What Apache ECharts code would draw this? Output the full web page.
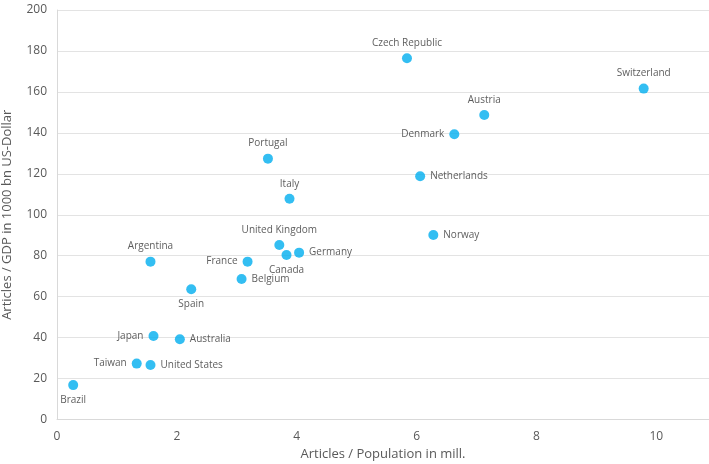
<!DOCTYPE html>
<html>
<head>
<meta charset="utf-8">
<script src="https://cdn.jsdelivr.net/npm/echarts@6/dist/echarts.min.js"></script>
<style>
html,body{margin:0;padding:0;background:#fff;}
#chart{width:709px;height:464px;}
</style>
</head>
<body>
<div id="chart"></div>
<script>
const countries = ["Czech Republic","Switzerland","Austria","Denmark","Netherlands","Norway","Portugal","Italy","United Kingdom","Canada","Germany","France","Belgium","Argentina","Spain","Japan","Australia","Taiwan","United States","Brazil"];
const articlesPerPopulation = [5.84,9.79,7.13,6.63,6.06,6.28,3.52,3.88,3.71,3.83,4.04,3.18,3.08,1.56,2.24,1.61,2.05,1.33,1.56,0.27];
const articlesPerGDP = [176.4,161.6,148.7,139.3,118.8,90.1,127.4,107.8,85.2,80.3,81.5,77.1,68.6,77.1,63.6,40.8,39.2,27.3,26.6,16.8];
const xTicks = [0,2,4,6,8,10];
const yTicks = [0,20,40,60,80,100,120,140,160,180,200];

const labelPlacement = {
  "Czech Republic":"top","Switzerland":"top","Austria":"top","Portugal":"top","Italy":"top","United Kingdom":"top","Argentina":"top",
  "Denmark":"left","France":"left","Japan":"left","Taiwan":"left",
  "Netherlands":"right","Norway":"right","Germany":"right","Belgium":"right","Australia":"right","United States":"right",
  "Canada":"bottom","Spain":"bottom","Brazil":"bottom"
};

const chart = echarts.init(document.getElementById('chart'), null, {renderer:'canvas'});
const font = '"Open Sans", Lato, sans-serif';
chart.setOption({
  animation:false,
  backgroundColor:'#ffffff',
  grid:{left:57, top:10, right:0, bottom:44.5, containLabel:false, outerBoundsMode:'none'},
  xAxis:{
    type:'value', min:xTicks[0], max:10.88, interval:2,
    name:'Articles / Population in mill.', nameLocation:'middle', nameGap:26,
    nameTextStyle:{color:'#595959', fontSize:13, fontFamily:font},
    axisLine:{show:true, lineStyle:{color:'#d9d9d9', width:1}},
    axisTick:{show:false},
    splitLine:{show:false},
    axisLabel:{color:'#595959', fontSize:12, fontFamily:font, margin:11, showMaxLabel:false,
      formatter:v => xTicks.includes(v) ? String(v) : ''}
  },
  yAxis:{
    type:'value', min:yTicks[0], max:yTicks[yTicks.length-1], interval:20,
    name:'Articles / GDP in 1000 bn US-Dollar', nameLocation:'middle', nameGap:43, nameRotate:90,
    nameTextStyle:{color:'#595959', fontSize:13, fontFamily:font},
    axisLine:{show:true, lineStyle:{color:'#d9d9d9', width:1}},
    axisTick:{show:false},
    splitLine:{show:true, lineStyle:{color:'#e3e3e3', width:1}},
    axisLabel:{color:'#595959', fontSize:12, fontFamily:font, margin:10}
  },
  series:[{
    type:'scatter',
    symbol:'circle',
    symbolSize:10,
    itemStyle:{color:'#00aeef'},
    label:{show:true, formatter:p => p.name, color:'#333333', fontSize:10, fontFamily:font, distance:5},
    data:countries.map((c,i)=>({
      name:c,
      value:[articlesPerPopulation[i], articlesPerGDP[i]],
      label:{position:labelPlacement[c]}
    }))
  }]
});
</script>
</body>
</html>
